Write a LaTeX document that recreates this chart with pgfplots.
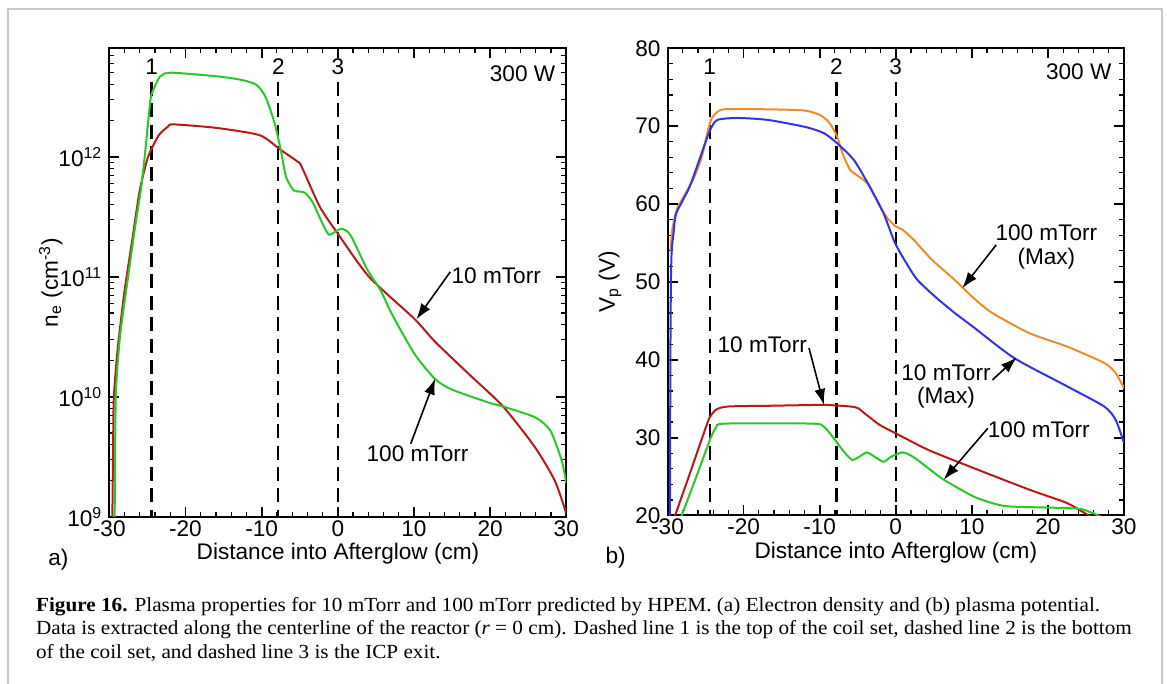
\documentclass[border=0pt]{standalone}
\usepackage{fontspec}
\setmainfont{Liberation Sans}
\newfontfamily\capfont{Liberation Serif}
\usepackage{pgfplots}
\pgfplotsset{compat=1.18}
\usetikzlibrary{arrows.meta}
\definecolor{cgreen}{RGB}{40,200,40}
\definecolor{cred}{RGB}{185,25,25}
\definecolor{corange}{RGB}{240,140,40}
\definecolor{cblue}{RGB}{50,50,230}
\newcommand{\lf}{\fontsize{11.3}{12}\selectfont}
\tikzset{arr/.style={-{Latex[length=8pt,width=5.5pt]}, line width=0.8pt, black}}
\pgfplotsset{
  panel/.style={
    scale only axis,
    anchor=south west,
    xmin=-30, xmax=30,
    xtick={-30,-20,-10,0,10,20,30},
    xticklabels={-30,-20,-10,0,10,20,30},
    minor x tick num=4,
    tick align=inside,
    xtick pos=both, ytick pos=both,
    major tick length=5pt, minor tick length=2.5pt,
    every major tick/.append style={line width=0.9pt, black},
    every minor tick/.append style={line width=0.6pt, black},
    axis line style={line width=1pt},
    tick label style={font=\lf},
    xticklabel style={inner sep=1.5pt},
    every axis plot/.append style={line width=1pt},
  },
  dline/.style={black, line width=1.1pt, dash pattern=on 7pt off 3.7pt},
}
\begin{document}
\begin{tikzpicture}
\useasboundingbox (0,0) rectangle (583.5pt,342pt);
\draw[black!22, line width=1pt] (4.15pt,-10pt) -- (4.15pt,337.35pt) -- (580.8pt,337.35pt) -- (580.8pt,-10pt);

% ---------------- left panel ----------------
\begin{axis}[panel, at={(54.65pt,83.5pt)}, width=228.5pt, height=234.35pt,
  ymode=log, ymin=1e9, ymax=8e12,
  ytick={1e9,1e10,1e11,1e12},
  yticklabels={10\textsuperscript{9},10\textsuperscript{10},10\textsuperscript{11},10\textsuperscript{12}},
  minor ytick={2e9,3e9,4e9,5e9,6e9,7e9,8e9,9e9,2e10,3e10,4e10,5e10,6e10,7e10,8e10,9e10,2e11,3e11,4e11,5e11,6e11,7e11,8e11,9e11,2e12,3e12,4e12,5e12,6e12,7e12}]
\addplot[dline] coordinates {(-24.45,4.2e12) (-24.45,1e9)};
\addplot[dline] coordinates {(-7.8,4.2e12) (-7.8,1e9)};
\addplot[dline] coordinates {(0,4.2e12) (0,1e9)};
\addplot[cred, smooth, tension=0.4] coordinates {
(-29.7,5.0e8) (-29.6,1.0e9) (-29.5,3.98e9) (-29.4,1.0e10) (-28.9,2.51e10) (-28.0,7.59e10)
(-27.0,2.0e11) (-26.0,5.25e11) (-24.9,1.0e12) (-23.5,1.51e12) (-22.3,1.78e12)
(-21.6,1.86e12) (-16,1.74e12) (-10.25,1.51e12) (-7.5,1.14e12) (-5.3,9.12e11)
(-4.77,8.32e11) (-2.33,3.80e11) (0,2.29e11) (4.1,1.0e11) (10.05,4.47e10)
(12.77,2.88e10) (17.2,1.55e10) (21.7,8.32e9) (25.9,3.80e9) (28.5,2.0e9) (30,1.07e9)};
\addplot[cgreen, smooth, tension=0.4] coordinates {
(-29.45,5.0e8) (-29.3,1e9) (-29.15,1e10) (-28.6,3.16e10) (-27.6,9.33e10)
(-26.6,2.63e11) (-25.8,5.62e11) (-25.35,1.0e12) (-24.6,2.95e12) (-24.2,3.63e12)
(-23.3,4.68e12) (-21.9,5.01e12) (-16,4.68e12) (-12.7,4.37e12) (-10.7,3.98e12)
(-9.5,3.16e12) (-8.3,1.91e12) (-7.5,1.15e12) (-6.78,6.76e11) (-5.8,5.25e11)
(-5.0,5.13e11) (-4.3,5.01e11) (-3.3,4.17e11) (-1.83,2.63e11) (-1.08,2.24e11)
(0.4,2.51e11) (1.63,2.24e11) (3.87,1.15e11) (5.6,7.76e10) (7.1,4.90e10)
(10.05,2.29e10) (12.77,1.41e10) (15,1.15e10) (19.94,8.91e9) (21.7,8.32e9)
(25.9,6.76e9) (27.9,5.25e9) (29.4,2.95e9) (30,1.91e9)};
\node[font=\lf] at (axis cs:-24.45,5.6e12) {1};
\node[font=\lf] at (axis cs:-7.8,5.6e12) {2};
\node[font=\lf] at (axis cs:0,5.6e12) {3};
\node[font=\lf, anchor=east, inner sep=0pt] at (axis cs:28.6,4.95e12) {300 W};
\node[font=\lf] at (axis cs:20.8,1.03e11) {10 mTorr};
\node[font=\lf] at (axis cs:10.47,3.39e9) {100 mTorr};
\draw[arr] (axis cs:14.77,1.1e11) -- (axis cs:10.31,4.42e10);
\draw[arr] (axis cs:9.57,4.07e9) -- (axis cs:12.79,1.42e10);
\end{axis}

% ---------------- right panel ----------------
\begin{axis}[panel, at={(333.75pt,84.25pt)}, width=228.25pt, height=233.6pt,
  ymin=20, ymax=80,
  ytick={20,30,40,50,60,70,80},
  yticklabels={20,30,40,50,60,70,80},
  minor y tick num=4]
\addplot[dline] coordinates {(-24.45,75.7) (-24.45,20)};
\addplot[dline] coordinates {(-7.8,75.7) (-7.8,20)};
\addplot[dline] coordinates {(0,75.7) (0,20)};
\addplot[corange, smooth, tension=0.4] coordinates {
(-29.6,54.0) (-29.4,56.5) (-29.0,58.5) (-28.6,59.7) (-26.65,63.1) (-25.5,66.0)
(-24.8,69.0) (-24.2,71.0) (-23.2,72.0) (-21.9,72.2) (-16,72.15) (-11.9,72.0)
(-9.9,71.4) (-8.7,70.4) (-7.7,68.65) (-7.0,66.5) (-6.0,64.4) (-4.8,63.5)
(-3.55,62.45) (-2.06,59.7) (-1.1,58.2) (-0.1,57.2) (0.9,56.7) (2.36,55.4)
(4.8,52.8) (7.75,50.25) (10.2,47.95) (12.7,46.0) (17.6,43.4) (22.5,41.7)
(27.4,39.6) (28.9,38.3) (30,36.35)};
\addplot[cblue, smooth, tension=0.4] coordinates {
(-29.68,19) (-29.62,40) (-29.55,50) (-29.45,54) (-29.2,56.3) (-28.85,58.8)
(-27.1,62.2) (-25.2,67.4) (-24.4,69.5) (-23.45,70.8) (-20.75,71.05) (-16.8,70.8)
(-11.9,69.9) (-9.44,69.1) (-7.7,67.8) (-5.5,65.65) (-3.55,62.45) (-1.6,58.8)
(-0.1,55.0) (1.4,52.4) (2.85,50.25) (5.3,48.0) (7.76,46.0) (10.2,44.2)
(15.6,40.2) (22.5,36.6) (27.4,34.0) (28.9,32.3) (30,29.3)};
\addplot[cred, smooth, tension=0.4] coordinates {
(-29.4,18.8) (-29.0,20) (-27.2,25) (-25.43,30) (-24.5,32.5) (-23.6,33.6) (-22,34.0)
(-16,34.1) (-9.4,34.2) (-6,34.0) (-5.0,33.8) (-4.2,33.2) (-3.55,32.7)
(-2.06,31.6) (-0.1,30.6) (4.33,28.4) (10.2,26.1) (17.6,23.3) (22.5,21.6)
(25.2,20.1) (26,19.7)};
\addplot[cgreen, smooth, tension=0.4] coordinates {
(-28.5,18.8) (-28.13,20) (-26.2,25) (-24.3,30) (-23.6,31.3) (-22.5,31.8) (-11,31.8)
(-9.44,31.4) (-7.97,29.7) (-6.99,28.4) (-5.75,27.15) (-4.7,27.6) (-3.8,28.1)
(-2.7,27.5) (-1.6,26.9) (-0.5,27.6) (0.9,28.1) (1.8,27.8) (2.85,27.15)
(4.5,25.9) (6.3,24.6) (10.2,22.45) (13,21.5) (15.1,21.15) (22.5,20.95)
(24.5,20.8) (26.4,20.1) (27.5,19.5)};
\node[font=\lf] at (axis cs:-24.45,77.6) {1};
\node[font=\lf] at (axis cs:-7.8,77.6) {2};
\node[font=\lf] at (axis cs:0,77.6) {3};
\node[font=\lf, anchor=east, inner sep=0pt] at (axis cs:28.4,77.0) {300 W};
\node[font=\fontsize{11.3}{11.7}\selectfont, align=center] at (axis cs:19.8,54.5) {100 mTorr\\(Max)};
\node[font=\lf] at (axis cs:-17.55,41.9) {10 mTorr};
\node[font=\fontsize{11.3}{11.7}\selectfont, align=center] at (axis cs:6.6,36.55) {10 mTorr\\(Max)};
\node[font=\lf] at (axis cs:18.8,31.0) {100 mTorr};
\draw[arr] (axis cs:13.2,54.75) -- (axis cs:8.75,49.2);
\draw[arr] (axis cs:-11.4,41.5) -- (axis cs:-9.44,34.2);
\draw[arr] (axis cs:12.7,37.4) -- (axis cs:15.9,40.3);
\draw[arr] (axis cs:12.1,31.2) -- (axis cs:6.3,24.6);
\end{axis}

% ---------------- labels ----------------
\node[font=\lf, rotate=90] at (25.4pt,200.7pt) {n\textsubscript{e} (cm\textsuperscript{-3})};
\node[font=\lf, rotate=90] at (305pt,201pt) {V\textsubscript{p} (V)};
\node[font=\lf, inner sep=0pt] at (169pt,65.2pt) {Distance into Afterglow (cm)};
\node[font=\lf, inner sep=0pt] at (447.9pt,65.5pt) {Distance into Afterglow (cm)};
\node[font=\lf] at (29.15pt,62pt) {a)};
\node[font=\lf] at (307.8pt,63pt) {b)};

% ---------------- caption ----------------
\begin{scope}[every node/.style={anchor=base west, inner sep=0pt, font=\capfont\fontsize{10}{12}\selectfont}]
\node at (17.85pt,36.15pt) {\scalebox{1.06}[1]{\textbf{Figure 16.} Plasma properties for 10 mTorr and 100 mTorr predicted by HPEM. (a) Electron density and (b) plasma potential.}};
\node at (17.85pt,24.5pt) {\scalebox{1.06}[1]{Data is extracted along the centerline of the reactor ({\itshape r}~=~0~cm). Dashed line 1 is the top of the coil set, dashed line 2 is the bottom}};
\node at (17.85pt,12.85pt) {\scalebox{1.06}[1]{of the coil set, and dashed line 3 is the ICP exit.}};
\end{scope}
\end{tikzpicture}
\end{document}
